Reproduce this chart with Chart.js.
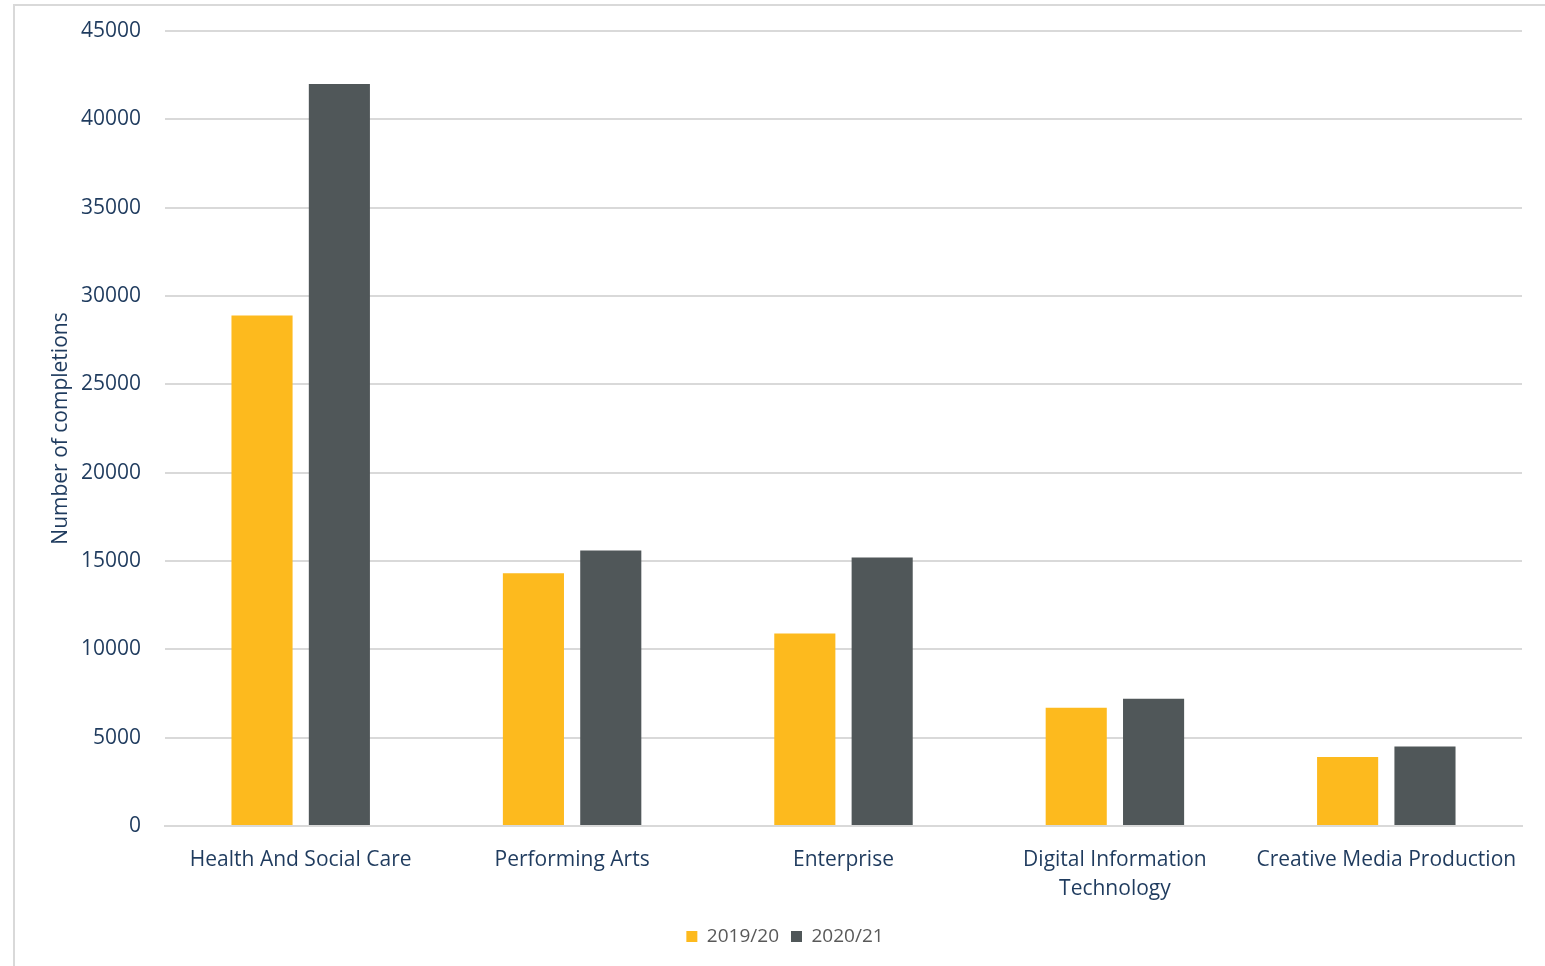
<!DOCTYPE html>
<html>
<head>
<meta charset="utf-8">
<script src="https://cdn.jsdelivr.net/npm/chart.js@4/dist/chart.umd.min.js"></script>
<style>
  html, body { margin: 0; padding: 0; background: #fff; }
  #frame {
    position: absolute; left: 13px; top: 4px; width: 1532px; height: 962px;
    border-top: 2px solid #d9d9d9; border-left: 2px solid #d9d9d9;
  }
  #wrap { position: absolute; left: 0; top: 0; width: 1545px; height: 966px; }
</style>
</head>
<body>
<div id="frame"></div>
<div id="wrap"><canvas id="chart"></canvas></div>
<script>
const categories = [
  'Health And Social Care',
  'Performing Arts',
  'Enterprise',
  ['Digital Information', 'Technology'],
  'Creative Media Production'
];
const series2019 = [28900, 14300, 10900, 6700, 3900];
const series2020 = [42000, 15600, 15200, 7200, 4500];
const yTicks = { min: 0, max: 45000, step: 5000 };

const navy = '#1f3b5e'; // axis text colour

const ctx = document.getElementById('chart').getContext('2d');
new Chart(ctx, {
  type: 'bar',
  data: {
    labels: categories,
    datasets: [{
      label: '2019/20',
      data: series2019,
      backgroundColor: '#fdba1e',
      categoryPercentage: 0.57,
      barPercentage: 0.79
    }, {
      label: '2020/21',
      data: series2020,
      backgroundColor: '#505759',
      categoryPercentage: 0.57,
      barPercentage: 0.79
    }]
  },
  options: {
    responsive: true,
    maintainAspectRatio: false,
    animation: false,
    layout: { padding: { top: 31, right: 23, left: 48, bottom: 10 } },
    scales: {
      x: {
        grid: { display: false, drawTicks: false },
        border: { color: '#d9d9d9', width: 2 },
        ticks: {
          color: navy,
          font: { family: 'Open Sans', size: 21, lineHeight: 1.4 },
          padding: 19,
          maxRotation: 0,
          autoSkip: false
        },
        afterFit: (s) => { s.height = 89; }
      },
      y: {
        min: yTicks.min,
        max: yTicks.max,
        grid: { color: '#d9d9d9', lineWidth: 2, drawTicks: false },
        border: { display: false },
        ticks: {
          stepSize: yTicks.step,
          color: navy,
          font: { family: 'Open Sans', size: 21 },
          padding: 24,
          callback: (v) => String(v)
        },
        title: {
          display: true,
          text: 'Number of completions',
          color: navy,
          font: { family: 'Open Sans', size: 21 },
          padding: { top: 0, bottom: 0 }
        },
        afterFit: (s) => {
          s.width = 117;
          s.paddingTop = 0;
          s.paddingBottom = 0;
        }
      }
    },
    plugins: {
      legend: {
        position: 'bottom',
        labels: {
          color: '#595959',
          font: { family: 'Open Sans', size: 19 },
          boxWidth: 11,
          boxHeight: 11,
          padding: 12
        }
      },
      tooltip: { enabled: false }
    }
  }
});
</script>
</body>
</html>
